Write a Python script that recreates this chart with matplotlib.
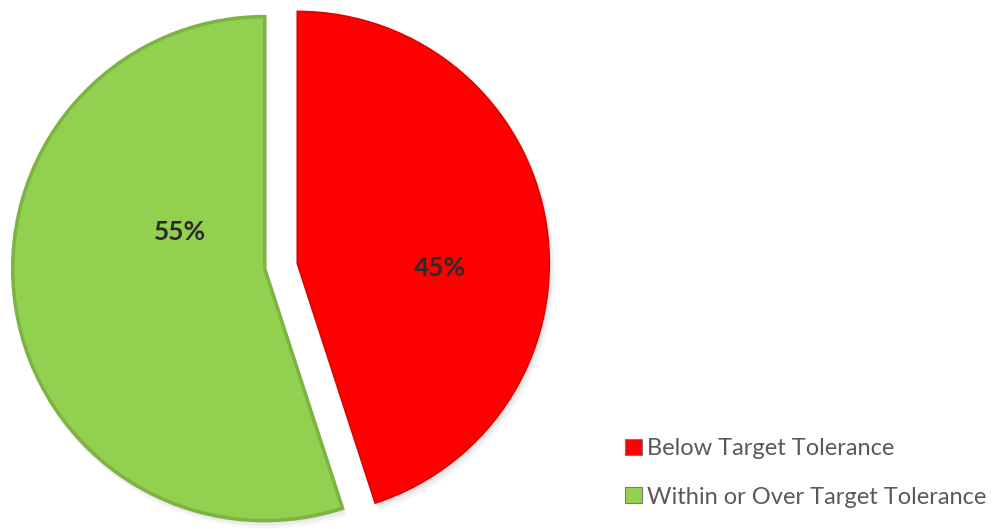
import matplotlib
matplotlib.use("Agg")
import matplotlib.pyplot as plt
from matplotlib.patches import Wedge, Patch

labels = ["Below Target Tolerance", "Within or Over Target Tolerance"]
shares = [45, 55]
colors = ["#ff0000", "#92d050"]
edges = ["#e00000", "#7cb342"]

W, H = 993, 529
fig = plt.figure(figsize=(W / 100, H / 100), dpi=100)
ax = fig.add_axes([0, 0, 1, 1])

center = (281, 263)
radius = 252
gap = 16.5

wedges, _, pcts = ax.pie(
    shares, colors=colors, startangle=90, counterclock=False,
    center=center, radius=radius, explode=[gap, gap],
    autopct="%1.0f%%", frame=True,
    textprops=dict(fontsize=19, fontweight="bold", color="#2b2b2b", family="Lato"),
)
ax.set_xlim(0, W)
ax.set_ylim(0, H)
ax.set_aspect("equal")
ax.axis("off")

for w, ec, lw in zip(wedges, edges, [1.2, 2.5]):
    w.set_edgecolor(ec)
    w.set_linewidth(lw)
    # soft drop shadow behind each slice
    for k, a in [(6, 0.05), (4, 0.07), (2, 0.09)]:
        sh = Wedge((w.center[0] + k * 0.6, w.center[1] - k), w.r + k * 0.3,
                   w.theta1, w.theta2, facecolor="#6a6a6a", edgecolor="none",
                   alpha=a, zorder=w.get_zorder() - 0.5)
        ax.add_patch(sh)

# label positions inside each slice
pcts[0].set_position((440, 261))
pcts[1].set_position((180, 297))

leg = ax.legend(
    handles=[Patch(facecolor=c, edgecolor="#7a7a7a", linewidth=0.8) for c in colors],
    labels=labels, loc="lower left", bbox_to_anchor=(616 / W, 12 / H),
    bbox_transform=fig.transFigure, frameon=False,
    handlelength=0.68, handleheight=0.68, handletextpad=0.25,
    labelspacing=1.15, borderaxespad=0,
    prop=dict(family="Lato", size=17),
)
for t in leg.get_texts():
    t.set_color("#595959")

fig.savefig("out.png", dpi=100, facecolor="white")
